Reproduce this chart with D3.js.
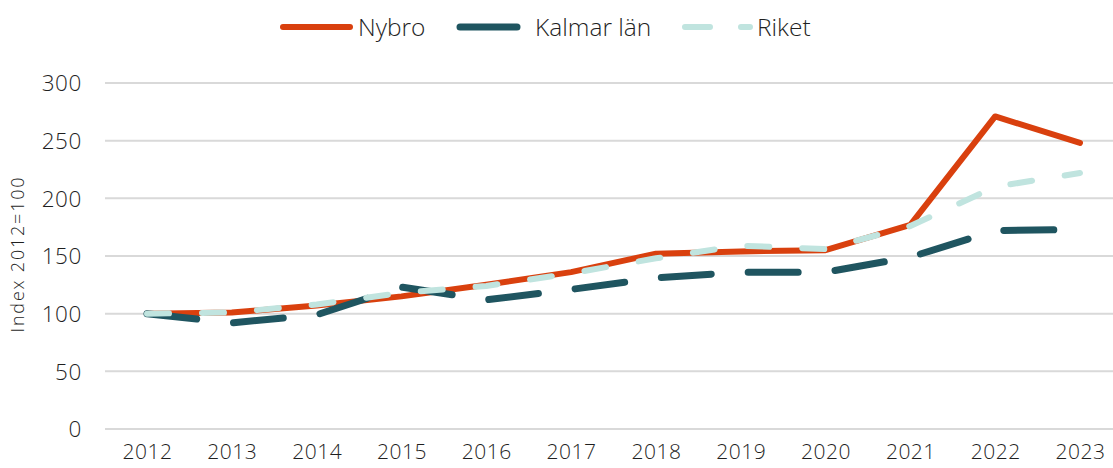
<!DOCTYPE html>
<html>
<head>
<meta charset="utf-8">
<script src="https://cdn.jsdelivr.net/npm/d3@7"></script>
<style>
  body { margin: 0; background: #fff; }
  text { font-family: "Open Sans", sans-serif; fill: #1f1f1f; }
</style>
</head>
<body>
<svg width="1113" height="468"></svg>
<script>
var years = ["2012","2013","2014","2015","2016","2017","2018","2019","2020","2021","2022","2023"];
var nybro = [100, 101, 107, 115, 125, 136, 152, 154, 155, 177, 271, 248];
var kalmar = [100, 92, 99, 123, 112, 121, 131, 136, 136, 149, 172, 173];
var riket = [100, 101, 108, 118, 124, 135, 148, 159, 156, 176, 210, 222];
var yTicks = [0, 50, 100, 150, 200, 250, 300];

var series = [
  {name: "Nybro", values: nybro, color: "#d9400e", width: 6, dash: null},
  {name: "Kalmar län", values: kalmar, color: "#1f5560", width: 7, dash: "50,37"},
  {name: "Riket", values: riket, color: "#c0e4df", width: 6, dash: "22,33"}
];

var svg = d3.select("svg");
var x = d3.scalePoint().domain(years).range([147, 1080]);
var y = d3.scaleLinear().domain([0, 300]).range([429, 83]);

// gridlines
svg.append("g").selectAll("line").data(yTicks).enter().append("line")
  .attr("x1", 105).attr("x2", 1113)
  .attr("y1", function(d){ return y(d); })
  .attr("y2", function(d){ return y(d); })
  .attr("stroke", "#d9d9d9").attr("stroke-width", 2);

// y axis labels
var yAxis = d3.axisLeft(y).tickValues(yTicks).tickSize(0).tickPadding(0);
svg.append("g").attr("transform", "translate(82,0)").call(yAxis)
  .call(function(g){ g.select(".domain").remove(); })
  .selectAll("text").style("font-size", "22.5px").style("font-weight", 300)
  .style("letter-spacing", "0.6px")
  .attr("fill", "#1f1f1f").attr("font-family", null).attr("dy", "0.35em");

// x axis labels
var xAxis = d3.axisBottom(x).tickSize(0).tickPadding(0);
svg.append("g").attr("transform", "translate(0,452)").call(xAxis)
  .call(function(g){ g.select(".domain").remove(); })
  .selectAll("text").style("font-size", "21px").style("font-weight", 300)
  .style("letter-spacing", "0.5px")
  .attr("fill", "#1f1f1f").attr("font-family", null).attr("dy", "0.35em");

svg.append("text")
  .attr("transform", "translate(24,254) rotate(-90)")
  .attr("text-anchor", "middle")
  .style("font-size", "18px").style("font-weight", 300)
  .style("letter-spacing", "1.8px")
  .text("Index 2012=100");

var line = d3.line()
  .x(function(d, i){ return x(years[i]); })
  .y(function(d){ return y(d); });

svg.append("g").selectAll("path").data(series).enter().append("path")
  .attr("d", function(s){ return line(s.values); })
  .attr("fill", "none")
  .attr("stroke", function(s){ return s.color; })
  .attr("stroke-width", function(s){ return s.width; })
  .attr("stroke-dasharray", function(s){ return s.dash; })
  .attr("stroke-linecap", "round")
  .attr("stroke-linejoin", "round");

// legend
var legend = [
  {s: series[0], x1: 283, x2: 350, tx: 358},
  {s: series[1], x1: 460, x2: 517, tx: 535},
  {s: series[2], x1: 685, x2: 750, tx: 757}
];
var lg = svg.append("g").selectAll("g").data(legend).enter().append("g");
lg.append("line")
  .attr("x1", function(d){ return d.x1; }).attr("x2", function(d){ return d.x2; })
  .attr("y1", 27).attr("y2", 27)
  .attr("stroke", function(d){ return d.s.color; })
  .attr("stroke-width", function(d){ return d.s.width; })
  .attr("stroke-linecap", "round")
  .attr("stroke-dasharray", function(d){ return d.s.name == "Riket" ? "25,31" : null; });
lg.append("text")
  .attr("x", function(d){ return d.tx; }).attr("y", 27).attr("dy", "0.35em")
  .style("font-size", "24.5px").style("font-weight", 300)
  .text(function(d){ return d.s.name; });
</script>
</body>
</html>
